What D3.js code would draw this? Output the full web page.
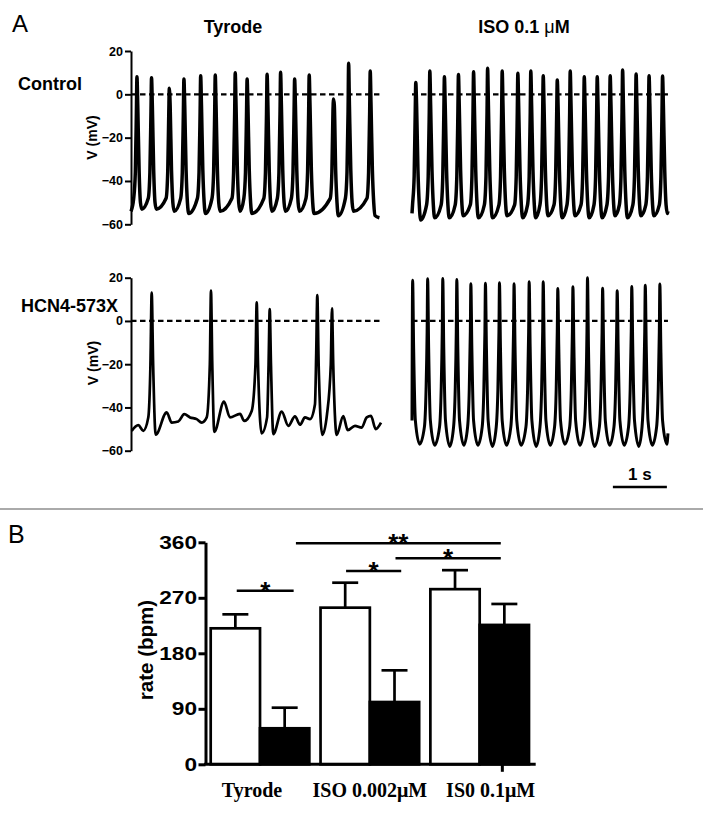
<!DOCTYPE html>
<html>
<head>
<meta charset="utf-8">
<script src="https://cdn.jsdelivr.net/npm/d3@7"></script>
<style>
  body { margin: 0; background: #fff; }
  svg { display: block; }
</style>
</head>
<body>
<svg id="fig" width="703" height="813"></svg>
<script>
'use strict';

// ---- Panel A data: spike times (s), peaks (mV), trough after each spike (mV) ----
var ctrlTyrodeTimes = [0.11, 0.38, 0.71, 0.98, 1.29, 1.56, 1.93, 2.15, 2.52, 2.77, 3.03, 3.30, 3.75, 4.03, 4.43];
var ctrlTyrodePeaks = [8.1, 7.7, 2.8, 7.1, 8.6, 8.9, 10.0, 7.1, 9.3, 10.2, 7.1, 8.9, -2.2, 14.3, 10.8];
var ctrlTyrodeTroughs = [-53, -53, -54, -55, -55, -54, -54, -55, -54, -54, -54, -55, -56, -54, -56];
var ctrlTyrodeEnds = [-54, -57];

var ctrlIsoTimes = [0.07, 0.33, 0.60, 0.86, 1.14, 1.40, 1.67, 1.96, 2.20, 2.43, 2.69, 2.93, 3.19, 3.43, 3.67, 3.90, 4.15, 4.39, 4.64];
var ctrlIsoPeaks = [5.5, 10.8, 8.1, 9.2, 10.4, 12.0, 10.8, 9.7, 10.8, 8.6, 6.6, 10.8, 8.1, 8.1, 8.6, 11.2, 9.4, 8.6, 8.5];
var ctrlIsoTroughs = [-58, -57, -57, -56, -57, -57, -56, -57, -57, -56, -57, -56, -57, -57, -56, -57, -56, -56, -55];
var ctrlIsoEnds = [-55, -54];

// HCN4-573X in Tyrode: trace vertices [s, mV]
var mutTyrodeTrace = [
  [0.013, -50.8], [0.135, -48.2], [0.228, -50.8], [0.32, -44.7], [0.36, -20], [0.383, 13.1], [0.41, -20],
  [0.457, -52.6], [0.661, -42.3], [0.754, -47], [0.876, -46.5], [0.987, -43.1], [1.093, -44.6],
  [1.217, -45.4], [1.309, -47], [1.402, -44.6], [1.46, -20], [1.481, 14.0], [1.505, -20], [1.543, -51.3],
  [1.722, -37.3], [1.833, -44.6], [2.019, -43], [2.098, -46.2], [2.235, -41.6], [2.305, -20], [2.328, 8.6],
  [2.352, -20], [2.42, -52], [2.52, -44.6], [2.548, -20], [2.569, 5.5], [2.592, -20], [2.635, -52.3],
  [2.791, -41.9], [2.913, -48.5], [3.037, -44.1], [3.13, -48], [3.222, -44.6], [3.315, -45.4],
  [3.407, -38.5], [3.43, -15], [3.45, 12.0], [3.475, -20], [3.543, -52.7], [3.63, -43.1], [3.70, -20],
  [3.722, 5.8], [3.745, -20], [3.809, -52.7], [3.931, -44], [4.013, -50.5], [4.148, -48.5],
  [4.272, -49.3], [4.365, -44.6], [4.444, -43.9], [4.531, -50], [4.63, -47]
];

var mutIsoTimes = [0.012, 0.29, 0.57, 0.83, 1.09, 1.36, 1.62, 1.89, 2.17, 2.43, 2.70, 2.98, 3.25, 3.53, 3.80, 4.07, 4.32, 4.59];
var mutIsoPeaks = [18.8, 19.5, 19.6, 19.2, 17.2, 17.4, 17.7, 17.2, 18.1, 18.1, 15.0, 15.8, 20.0, 15.1, 14.0, 15.9, 16.5, 17.1];
var mutIsoTroughs = [-57, -57.5, -58, -57.5, -57.5, -58, -57.5, -57.5, -58, -57.5, -57, -57.5, -58, -57.5, -57.5, -58, -57.5, -57];
var mutIsoEnds = [-46, -52];

var voltTicks = [-60, -40, -20, 0, 20];

// ---- Panel B data ----
var groups = ['Tyrode', 'ISO 0.002\u03bcM', 'IS0 0.1\u03bcM'];
var wtRate = [220.5, 254, 284];
var wtSem = [22.7, 40.5, 30.8];
var mutRate = [58.4, 101, 226];
var mutSem = [33.4, 51.4, 34];
var rateTicks = [0, 90, 180, 270, 360];
var sigFrom = [0, 1, 0, 1];
var sigTo = [0, 1, 2, 2];
var sigLevel = [281.5, 313.5, 358.4, 334];
var sigLabel = ['*', '*', '**', '*'];

// ---- layout ----
var sans = "'Liberation Sans', Arial, sans-serif";
var serif = "'Liberation Serif', 'Times New Roman', serif";
var bracketEnds = [[0.264, 0.841], [0.259, 0.818], [0.864, 0.714], [0.76, 0.714]];
var labelShift = [-8, 0, 11];

var svg = d3.select('#fig');

function addText(x, y, str, size, weight, anchor, family) {
  return svg.append('text')
      .attr('x', x)
      .attr('y', y)
      .attr('font-family', family || sans)
      .attr('font-size', size)
      .attr('font-weight', weight || 'bold')
      .attr('text-anchor', anchor || 'start')
      .text(str);
}

// builds trace vertices from spike list with a fixed spike shape
function spikeTrain(times, peaks, troughs, ends, tEnd, shape) {
  var pts = [[0, ends[0]]];
  times.forEach(function (t, i) {
    shape.rise.forEach(function (r) {
      if (t + r[0] > 0.005) pts.push([t + r[0], r[1]]);
    });
    pts.push([t, peaks[i]]);
    shape.fall.forEach(function (f) {
      pts.push([t + f[0], f[1]]);
    });
    if (t + shape.troughAt < tEnd - 0.005) pts.push([t + shape.troughAt, troughs[i]]);
  });
  pts.push([tEnd, ends[1]]);
  return pts;
}

var noisyShape = {
  rise: [[-0.06, -48], [-0.03, -36], [-0.01, -8]],
  fall: [[0.015, -5], [0.04, -35], [0.065, -50]],
  troughAt: 0.09
};
var isoShape = {
  rise: [[-0.06, -51], [-0.03, -38], [-0.01, -8]],
  fall: [[0.015, -5], [0.04, -35], [0.065, -51]],
  troughAt: 0.09
};
var smoothShape = {
  rise: [[-0.06, -49], [-0.03, -32], [-0.01, -5]],
  fall: [[0.018, -12], [0.05, -46]],
  troughAt: 0.13
};

var xLeft = d3.scaleLinear().domain([0, 4.65]).range([131, 131 + 4.65 * 54]);
var xRight = d3.scaleLinear().domain([0, 4.74]).range([412, 412 + 4.74 * 54]);
var yTop = d3.scaleLinear().domain([-60, 20]).range([224.3, 51]);
var yBottom = d3.scaleLinear().domain([-60, 20]).range([450.7, 277.7]);

var panels = [
  { pts: spikeTrain(ctrlTyrodeTimes, ctrlTyrodePeaks, ctrlTyrodeTroughs, ctrlTyrodeEnds, 4.6, noisyShape),
    x: xLeft, y: yTop, w: 3.5, tEnd: 4.6 },
  { pts: spikeTrain(ctrlIsoTimes, ctrlIsoPeaks, ctrlIsoTroughs, ctrlIsoEnds, 4.74, isoShape),
    x: xRight, y: yTop, w: 3.5, tEnd: 4.74 },
  { pts: mutTyrodeTrace, x: xLeft, y: yBottom, w: 2.7, tEnd: 4.63 },
  { pts: spikeTrain(mutIsoTimes, mutIsoPeaks, mutIsoTroughs, mutIsoEnds, 4.74, smoothShape),
    x: xRight, y: yBottom, w: 3, tEnd: 4.74 }
];

panels.forEach(function (p) {
  svg.append('line')
      .attr('x1', p.x(0))
      .attr('x2', p.x(p.tEnd))
      .attr('y1', p.y(0))
      .attr('y2', p.y(0))
      .attr('stroke', '#000')
      .attr('stroke-width', 2.3)
      .attr('stroke-dasharray', '5.5,3.5');

  svg.append('path')
      .datum(p.pts)
      .attr('fill', 'none')
      .attr('stroke', '#000')
      .attr('stroke-width', p.w)
      .attr('stroke-linejoin', 'round')
      .attr('d', d3.line()
        .x(function (d) { return p.x(d[0]); })
        .y(function (d) { return p.y(d[1]); })
        .curve(d3.curveMonotoneX));
});

// voltage axes
[yTop, yBottom].forEach(function (y) {
  var g = svg.append('g')
      .attr('transform', 'translate(131,0)')
      .call(d3.axisLeft(y).tickValues(voltTicks).tickSize(6).tickSizeOuter(0).tickPadding(2));
  g.select('.domain').attr('stroke-width', 2);
  g.selectAll('.tick line').attr('stroke-width', 2);
  g.selectAll('.tick text')
      .attr('font-family', sans)
      .attr('font-size', 12.5)
      .attr('font-weight', 'bold')
      .attr('fill', '#000');
});

addText(97, 137.5, 'V (mV)', 14).attr('text-anchor', 'middle')
    .attr('transform', 'rotate(-90,97,137.5)');
addText(97.5, 363, 'V (mV)', 14).attr('text-anchor', 'middle')
    .attr('transform', 'rotate(-90,97.5,363)');

// scale bar
svg.append('line')
    .attr('x1', xRight(3.72))
    .attr('x2', xRight(4.72))
    .attr('y1', 487)
    .attr('y2', 487)
    .attr('stroke', '#000')
    .attr('stroke-width', 2.5);
addText((xRight(3.72) + xRight(4.72)) / 2, 480, '1 s', 17, 'bold', 'middle');

// titles
addText(12, 32, 'A', 24, 'normal');
addText(233, 33, 'Tyrode', 18, 'bold', 'middle');
var isoTitle = addText(524, 33, 'ISO 0.1 ', 18, 'bold', 'middle');
isoTitle.append('tspan').attr('font-weight', 'normal').text('\u03bc');
isoTitle.append('tspan').text('M');
addText(18, 90, 'Control', 18);
addText(21, 312, 'HCN4-573X', 18);

// separator
svg.append('line')
    .attr('x1', 0)
    .attr('x2', 703)
    .attr('y1', 509)
    .attr('y2', 509)
    .attr('stroke', '#aaa')
    .attr('stroke-width', 2);

addText(8, 543, 'B', 25, 'normal');

// ---- Panel B: bar chart ----
var yRate = d3.scaleLinear().domain([0, 360]).range([764.3, 542.3]);
var xGroup = d3.scaleBand().domain(d3.range(groups.length)).range([210.7, 529]).paddingInner(0.102);
var xBar = d3.scaleBand().domain(['wt', 'mut']).range([0, xGroup.bandwidth()]);
var axisX = 205.5;

var bars = [];
groups.forEach(function (g, i) {
  bars.push({ group: i, key: 'wt', value: wtRate[i], sem: wtSem[i] });
  bars.push({ group: i, key: 'mut', value: mutRate[i], sem: mutSem[i] });
});

function barCenter(d) {
  return xGroup(d.group) + xBar(d.key) + xBar.bandwidth() / 2;
}

// error bars (upper only)
var err = svg.append('g').attr('stroke', '#000').attr('stroke-width', 2.7);
err.selectAll('line.v')
    .data(bars)
  .enter().append('line')
    .attr('x1', barCenter)
    .attr('x2', barCenter)
    .attr('y1', function (d) { return yRate(d.value); })
    .attr('y2', function (d) { return yRate(d.value + d.sem); });
err.selectAll('line.cap')
    .data(bars)
  .enter().append('line')
    .attr('x1', function (d) { return barCenter(d) - 13; })
    .attr('x2', function (d) { return barCenter(d) + 13; })
    .attr('y1', function (d) { return yRate(d.value + d.sem); })
    .attr('y2', function (d) { return yRate(d.value + d.sem); });

svg.append('g').selectAll('rect')
    .data(bars)
  .enter().append('rect')
    .attr('x', function (d) { return xGroup(d.group) + xBar(d.key); })
    .attr('width', xBar.bandwidth())
    .attr('y', function (d) { return yRate(d.value); })
    .attr('height', function (d) { return yRate(0) - yRate(d.value); })
    .attr('fill', function (d) { return d.key === 'wt' ? '#fff' : '#000'; })
    .attr('stroke', '#000')
    .attr('stroke-width', 2.7);

// axes
var yAxisG = svg.append('g')
    .attr('transform', 'translate(' + axisX + ',0)')
    .call(d3.axisLeft(yRate).tickValues(rateTicks).tickSize(7).tickSizeOuter(0).tickPadding(1.5));
yAxisG.select('.domain').attr('stroke-width', 3);
yAxisG.selectAll('.tick line').attr('stroke-width', 3);
yAxisG.selectAll('.tick text')
    .attr('font-family', sans)
    .attr('font-size', 18.5)
    .attr('font-weight', 'bold')
    .attr('fill', '#000')
    .attr('textLength', function (d) { return String(d).length * 12.6; })
    .attr('lengthAdjust', 'spacingAndGlyphs');

svg.append('line')
    .attr('x1', axisX - 1.5)
    .attr('x2', xGroup.range()[1] + 6.7)
    .attr('y1', yRate(0))
    .attr('y2', yRate(0))
    .attr('stroke', '#000')
    .attr('stroke-width', 3);
svg.append('line')
    .attr('x1', barCenter(bars[bars.length - 1]) - 2)
    .attr('x2', barCenter(bars[bars.length - 1]) - 2)
    .attr('y1', yRate(0))
    .attr('y2', yRate(0) + 7.5)
    .attr('stroke', '#000')
    .attr('stroke-width', 3);

addText(152.8, 650, 'rate (bpm)', 20.5, 'bold', 'middle')
    .attr('transform', 'rotate(-90,152.8,650)');

groups.forEach(function (g, i) {
  addText(xGroup(i) + xGroup.bandwidth() / 2 + labelShift[i], 797, g, 20, 'bold', 'middle', serif);
});

// significance brackets
sigLevel.forEach(function (lv, i) {
  var x1 = xGroup(sigFrom[i]) + bracketEnds[i][0] * xGroup.bandwidth();
  var x2 = xGroup(sigTo[i]) + bracketEnds[i][1] * xGroup.bandwidth();
  svg.append('line')
      .attr('x1', x1)
      .attr('x2', x2)
      .attr('y1', yRate(lv))
      .attr('y2', yRate(lv))
      .attr('stroke', '#000')
      .attr('stroke-width', 2.5);
  addText((x1 + x2) / 2, yRate(lv) + 9, sigLabel[i], 26, 'bold', 'middle');
});
</script>
</body>
</html>
